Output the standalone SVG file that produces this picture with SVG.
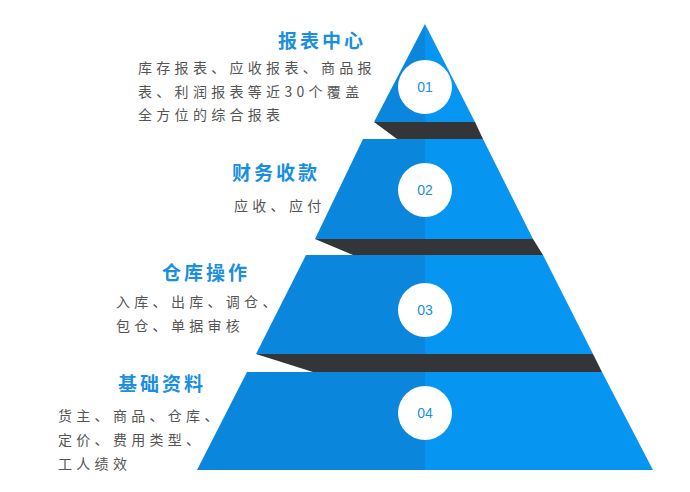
<svg xmlns="http://www.w3.org/2000/svg" width="690" height="492" viewBox="0 0 690 492">
<style>
.l{fill:#0a86dc}.r{fill:#0795f2}.s{fill:#333538}.c{fill:#fff}
.n{font-family:"Liberation Sans",sans-serif;font-size:14px;fill:#1a8fe0;text-anchor:middle}
.t{font-family:"Noto Sans CJK SC",sans-serif;font-size:19px;font-weight:bold;fill:#1a8fe0;letter-spacing:3px}
.b{font-family:"Noto Sans CJK SC",sans-serif;font-size:14px;fill:#555;letter-spacing:4.3px}
</style>
<rect width="690" height="492" fill="#fff"/>
<g id="connectors">
<polygon class="s" points="374,122 475,122 483,139 397,139"/>
<polygon class="s" points="315,239 533,239 543,255 353,255"/>
<polygon class="s" points="256,354 593,354 602,372 313,372"/>
</g>
<g id="tier1">
<polygon class="l" points="425,24 425,122 374,122"/>
<polygon class="r" points="425,24 475,122 425,122"/>
<circle class="c" cx="425" cy="87" r="27"/>
<text class="n" x="425" y="92">01</text>
<text class="t" x="278" y="48">报表中心</text>
<text class="b" x="138" y="73">库存报表、应收报表、商品报</text>
<text class="b" x="138" y="97">表、利润报表等近30个覆盖</text>
<text class="b" x="138" y="120">全方位的综合报表</text>
</g>
<g id="tier2">
<polygon class="l" points="363,139 425,139 425,239 315,239"/>
<polygon class="r" points="425,139 483,139 533,239 425,239"/>
<circle class="c" cx="425" cy="190" r="27"/>
<text class="n" x="425" y="195">02</text>
<text class="t" x="232" y="180">财务收款</text>
<text class="b" x="234" y="211">应收、应付</text>
</g>
<g id="tier3">
<polygon class="l" points="306,255 425,255 425,354 256,354"/>
<polygon class="r" points="425,255 543,255 593,354 425,354"/>
<circle class="c" cx="425" cy="310" r="27"/>
<text class="n" x="425" y="315">03</text>
<text class="t" x="162" y="280">仓库操作</text>
<text class="b" x="116" y="307">入库、出库、调仓、</text>
<text class="b" x="116" y="331">包仓、单据审核</text>
</g>
<g id="tier4">
<polygon class="l" points="247,372 425,372 425,470 197,470"/>
<polygon class="r" points="425,372 602,372 653,470 425,470"/>
<circle class="c" cx="425" cy="413" r="27"/>
<text class="n" x="425" y="418">04</text>
<text class="t" x="118" y="391">基础资料</text>
<text class="b" x="58" y="421">货主、商品、仓库、</text>
<text class="b" x="58" y="445">定价、费用类型、</text>
<text class="b" x="58" y="469">工人绩效</text>
</g>
</svg>
